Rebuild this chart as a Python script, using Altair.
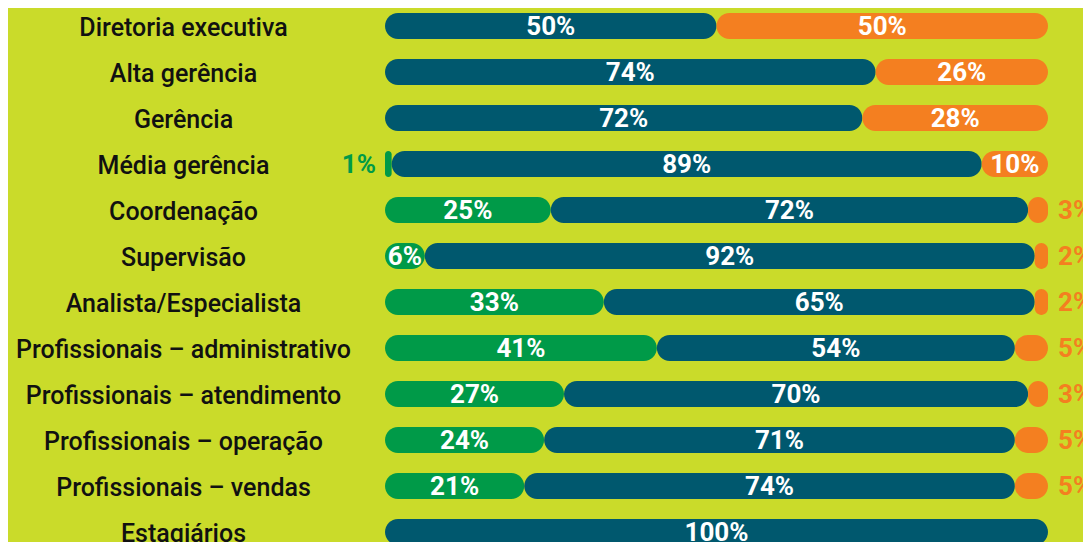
import altair as alt
import pandas as pd

categories = [
    "Diretoria executiva", "Alta gerência", "Gerência", "Média gerência",
    "Coordenação", "Supervisão", "Analista/Especialista",
    "Profissionais – administrativo", "Profissionais – atendimento",
    "Profissionais – operação", "Profissionais – vendas", "Estagiários",
]
green = [0, 0, 0, 1, 25, 6, 33, 41, 27, 24, 21, 0]
teal = [50, 74, 72, 89, 72, 92, 65, 54, 70, 71, 74, 100]
orange = [50, 26, 28, 10, 3, 2, 2, 5, 3, 5, 5, 0]

series_names = ["g", "t", "o"]
series_colors = ["#009a48", "#00586e", "#f47f20"]

rows = []
for i, c in enumerate(categories):
    for k, (s, vals) in enumerate(zip(series_names, [green, teal, orange])):
        rows.append({"category": c, "series": s, "order": k, "value": vals[i]})
df = pd.DataFrame(rows)

FONT = "Roboto"

base = alt.Chart(df).transform_stack(
    stack="value", as_=["x0", "x1"], groupby=["category"],
    sort=[alt.SortField("order", order="ascending")]
).transform_filter("datum.value > 0").transform_calculate(
    mid="(datum.x0 + datum.x1) / 2",
    lbl="datum.value + '%'"
)

yenc = alt.Y(
    "category:N", sort=categories,
    scale=alt.Scale(paddingInner=20 / 46, paddingOuter=5 / 46),
    axis=alt.Axis(
        title=None, domain=False, ticks=False, labelAlign="center",
        labelPadding=202, labelFontSize=25, labelFont=FONT,
        labelFontWeight=500, labelColor="#111111", labelLimit=500,
        labelBaseline="middle", labelOffset=2,
    ),
)
xscale = alt.Scale(domain=[0, 100], nice=False, zero=True)

bars = base.mark_bar(cornerRadius=13).encode(
    y=yenc,
    x=alt.X("x0:Q", scale=xscale, axis=None),
    x2="x1:Q",
    color=alt.Color("series:N", scale=alt.Scale(domain=series_names, range=series_colors), legend=None),
)

inside = base.transform_filter("datum.value > 5").mark_text(
    font=FONT, fontSize=26, fontWeight="bold", color="white", align="center", baseline="middle", dy=1
).encode(y=alt.Y("category:N", sort=categories), x=alt.X("mid:Q", scale=xscale), text="lbl:N")

out_green = base.transform_filter("datum.value <= 5 && datum.series == 'g'").mark_text(
    font=FONT, fontSize=26, fontWeight="bold", color="#009a48", align="right", baseline="middle", dx=-9, dy=1
).encode(y=alt.Y("category:N", sort=categories), x=alt.X("x0:Q", scale=xscale), text="lbl:N")

out_orange = base.transform_filter("datum.value <= 5 && datum.series == 'o'").mark_text(
    font=FONT, fontSize=26, fontWeight="bold", color="#f47f20", align="left", baseline="middle", dx=10, dy=1
).encode(y=alt.Y("category:N", sort=categories), x=alt.X("x1:Q", scale=xscale), text="lbl:N")

chart = alt.layer(bars, inside, out_green, out_orange).properties(
    width=663, height=542,
    autosize=alt.AutoSizeParams(type="none"),
    padding={"left": 377, "top": 0, "right": 35, "bottom": 0},
).configure(background="#cadb2a").configure_view(stroke=None)

chart.save("out.html", embed_options={"renderer": "svg", "actions": False})
